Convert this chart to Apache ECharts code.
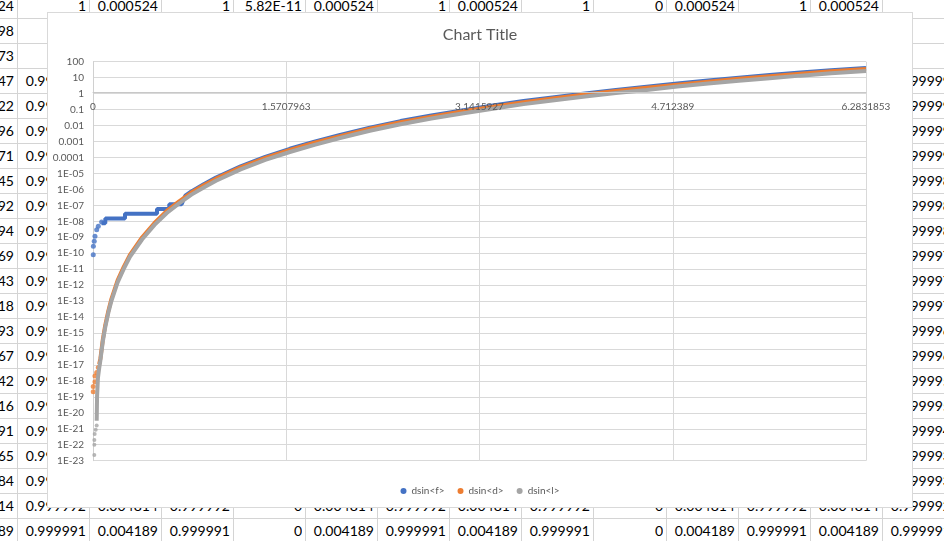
<!DOCTYPE html>
<html>
<head>
<meta charset="utf-8">
<script src="https://cdn.jsdelivr.net/npm/echarts@6/dist/echarts.min.js"></script>
<style>
    body { margin: 0; width: 944px; height: 541px; overflow: hidden; background: #fff; position: relative; font-family: Lato, sans-serif; }
    .cell { position: absolute; height: 25px; line-height: 25px; font-size: 14px; color: #000; text-align: right; white-space: nowrap; overflow: hidden; }
    .hl { position: absolute; left: 0; width: 944px; height: 1px; background: #d4d4d4; }
    .vl { position: absolute; top: 0; width: 1px; height: 541px; background: #d4d4d4; }
    #box { position: absolute; left: 47px; top: 12px; width: 864px; height: 494px; border: 1px solid #d9d9d9; background: #fff; }
</style>
</head>
<body>
<div id="sheet"></div>
<div id="box"></div>
<script>
    // ---- chart data ----
    var seriesNames = ['dsin<f>', 'dsin<d>', 'dsin<l>'];
    var xTickLabels = ['0', '1.5707963', '3.1415927', '4.712389', '6.2831853'];

    // shared x positions of the main curve (radians)
    var curveX = [0.06, 0.08, 0.1, 0.125, 0.15, 0.2, 0.25, 0.3, 0.4, 0.5, 0.6, 0.7, 0.8, 0.9, 1.0, 1.2, 1.4, 1.6, 1.8, 2.0,
        2.25, 2.5, 2.75, 3.0, 3.25, 3.5, 3.75, 4.0, 4.25, 4.5, 4.75, 5.0, 5.25, 5.5, 5.75, 6.0, 6.2832];

    // dsin<d>
    var dsinD = [2.5e-17, 4.0e-16, 3.2e-15, 2.5e-14, 1.4e-13, 2.0e-12, 1.4e-11, 7.9e-11, 1.0e-9, 7.9e-9, 4.5e-8, 1.8e-7,
        6.3e-7, 1.8e-6, 4.7e-6, 2.4e-5, 9.3e-5, 3.0e-4, 8.3e-4, 2.1e-3, 6.3e-3, 1.6e-2, 3.6e-2, 7.6e-2, 0.15, 0.29, 0.51,
        0.87, 1.45, 2.3, 3.6, 5.6, 8.5, 12.3, 17.8, 25, 35];
    var dLowX = [0.05];
    var dLowY = [1.1e-17];
    var dDotX = [0.002, 0.002, 0.016, 0.016, 0.03, 0.043];
    var dDotY = [2.1e-19, 4.5e-19, 9.0e-19, 2.0e-18, 3.3e-18, 6.8e-18];

    // dsin<l>
    var dsinL = [1.9e-17, 3.0e-16, 2.4e-15, 1.9e-14, 1.05e-13, 1.5e-12, 1.05e-11, 6.0e-11, 7.5e-10, 6.0e-9, 3.3e-8, 1.33e-7,
        4.7e-7, 1.33e-6, 3.5e-6, 1.8e-5, 7.0e-5, 2.2e-4, 6.2e-4, 1.6e-3, 4.7e-3, 1.2e-2, 2.75e-2, 5.7e-2, 0.113, 0.22, 0.39,
        0.65, 1.09, 1.7, 2.75, 4.25, 6.4, 9.3, 13.4, 19, 26];
    var lLowX = [0.03, 0.033, 0.04, 0.05];
    var lLowY = [3.2e-21, 1.0e-19, 1.5e-18, 6.0e-18];
    var lDotX = [0.0105, 0.0105, 0.011, 0.011, 0.0135, 0.022, 0.03];
    var lDotY = [8e-24, 2.3e-23, 1.0e-22, 2.0e-22, 4.7e-22, 8.7e-22, 1.6e-21];

    // dsin<f>
    var fX = [0.07, 0.1, 0.1, 0.26, 0.26, 0.52, 0.52, 0.62, 0.62, 0.72, 0.75, 0.8, 0.9, 1.0, 1.2, 1.4, 1.6, 1.8, 2.0, 2.25,
        2.5, 2.75, 3.0, 3.25, 3.5, 3.75, 4.0, 4.25, 4.5, 4.75, 5.0, 5.25, 5.5, 5.75, 6.0, 6.2832];
    var fY = [7.45e-9, 7.45e-9, 1.49e-8, 1.49e-8, 2.98e-8, 2.98e-8, 5.96e-8, 5.96e-8, 1.19e-7, 1.19e-7, 4.0e-7, 7.4e-7,
        2.1e-6, 5.5e-6, 2.8e-5, 1.1e-4, 3.5e-4, 9.8e-4, 2.5e-3, 7.4e-3, 1.9e-2, 4.3e-2, 8.9e-2, 0.18, 0.34, 0.60, 1.02,
        1.7, 2.7, 4.3, 6.6, 10, 14.5, 21, 29.5, 41];
    var fDotX = [0.002, 0.003, 0.01, 0.016, 0.03, 0.043, 0.07];
    var fDotY = [8e-11, 2.75e-10, 5.6e-10, 1.15e-9, 3.0e-9, 4.9e-9, 9e-9];

    var colors = ['#4472C4', '#ED7D31', '#A5A5A5'];

    // ---- worksheet behind the chart ----
    var colEdges = [-55, 17, 89, 161, 233, 305, 377, 449, 521, 593, 666, 738, 810, 882, 954];
    var leftTails = ['24', '98', '73', '47', '22', '96', '71', '45', '92', '94', '69', '43', '18', '93', '67', '42', '16',
        '91', '65', '84', '14', '89'];
    var topRow = ['1', '0.000524', '1', '5.82E-11', '0.000524', '1', '0.000524', '1', '0', '0.000524', '1', '0.000524', ''];
    var colB = ['0.999999', '0.999999', '0.999999', '0.999999', '0.999998', '0.999998', '0.999998', '0.999997', '0.999997',
        '0.999997', '0.999996', '0.999996', '0.999995', '0.999995', '0.999994', '0.999993', '0.999993'];
    var colN = ['0.999999', '0.999999', '0.999999', '0.999999', '0.999998', '0.999998', '0.999998', '0.999997', '0.999997',
        '0.999997', '0.999996', '0.999996', '0.999995', '0.999995', '0.999994', '0.999993', '0.999993'];
    var row20 = ['0.999992', '0.004814', '0.999992', '0', '0.004814', '0.999992', '0.004814', '0.999992', '0', '0.004814',
        '0.999992', '0.004814', '0.999992'];
    var row21 = ['0.999991', '0.004189', '0.999991', '0', '0.004189', '0.999991', '0.004189', '0.999991', '0', '0.004189',
        '0.999991', '0.004189', '0.999991'];

    var sheet = document.getElementById('sheet');
    function addCell(r, c, txt) {
        if (!txt) return;
        var d = document.createElement('div');
        d.className = 'cell';
        d.style.left = (colEdges[c] + 1) + 'px';
        d.style.width = (colEdges[c + 1] - colEdges[c] - 4) + 'px';
        d.style.top = (17.5 + 25 * (r - 1)) + 'px';
        d.textContent = txt;
        sheet.appendChild(d);
    }
    for (var r = 0; r < 23; r++) {
        var h = document.createElement('div');
        h.className = 'hl';
        h.style.top = (17.5 + 25 * r) + 'px';
        sheet.appendChild(h);
    }
    for (var c = 1; c < colEdges.length; c++) {
        var v = document.createElement('div');
        v.className = 'vl';
        v.style.left = colEdges[c] + 'px';
        sheet.appendChild(v);
    }
    leftTails.forEach(function (t, r) { addCell(r, 0, t); });
    topRow.forEach(function (t, i) { addCell(0, i + 1, t); });
    colB.forEach(function (t, i) { addCell(i + 3, 1, t); });
    colN.forEach(function (t, i) { addCell(i + 3, 13, t); });
    row20.forEach(function (t, i) { addCell(20, i + 1, t); });
    row21.forEach(function (t, i) { addCell(21, i + 1, t); });

    // ---- chart ----
    // the y axis is a value axis over log10 of the data (one tick per decade, like Excel's log axis)
    function pairs(xs, ys) {
        return xs.map(function (x, i) { return [x, Math.log10(ys[i])]; });
    }
    function yLabel(e) {
        e = Math.round(e);
        if (e >= 0) return String(Math.pow(10, e));
        if (e >= -4) return '0.' + '0'.repeat(-e - 1) + '1';
        return '1E-' + (-e < 10 ? '0' : '') + (-e);
    }
    function lineSeries(name, color, xs, ys, width) {
        return {
            name: name, type: 'line', data: pairs(xs, ys), showSymbol: false, symbol: 'circle',
            itemStyle: { color: color }, lineStyle: { color: color, width: width }, silent: true
        };
    }
    function dotSeries(name, color, xs, ys, size) {
        return {
            name: name, type: 'scatter', data: pairs(xs, ys), symbolSize: size,
            itemStyle: { color: color }, silent: true
        };
    }

    var textColor = '#595959';
    var chart = echarts.init(document.getElementById('box'));
    var xMax = 2 * Math.PI;
    var option = {
        animation: false,
        textStyle: { fontFamily: 'Lato, sans-serif' },
        title: {
            text: 'Chart Title', left: 'center', top: 9,
            textStyle: { fontSize: 16, fontWeight: 'normal', color: textColor, fontFamily: 'Lato, sans-serif' }
        },
        legend: {
            data: seriesNames.map(function (n) { return { name: n, icon: 'circle' }; }),
            top: 468, left: 'center', itemWidth: 6, itemHeight: 6, itemGap: 13,
            textStyle: { fontSize: 10, color: textColor }
        },
        grid: { left: 45, right: 46, top: 48.7, bottom: 46.3 },
        xAxis: [{
            // vertical gridlines only, under the series
            type: 'value', min: 0, max: xMax, interval: Math.PI / 2,
            axisLine: { show: false }, axisTick: { show: false }, axisLabel: { show: false },
            splitLine: { show: true, lineStyle: { color: '#d9d9d9' } }
        }, {
            // the visible axis crossing at 1, labels drawn over the curve as in Excel
            type: 'value', min: 0, max: xMax, interval: Math.PI / 2, z: 5,
            position: 'bottom', offset: -368,
            axisLine: { show: true, onZero: false, lineStyle: { color: '#c8c8c8' } },
            axisTick: { show: false },
            axisLabel: {
                margin: 9, fontSize: 10, color: textColor,
                formatter: function (v) { return xTickLabels[Math.round(v / (Math.PI / 2))]; }
            },
            splitLine: { show: false }
        }],
        yAxis: {
            type: 'value', min: -23, max: 2, interval: 1,
            axisLine: { show: true, onZero: false, lineStyle: { color: '#d0d0d0' } },
            axisTick: { show: false },
            axisLabel: { margin: 9, fontSize: 10, color: textColor, formatter: yLabel },
            splitLine: { show: true, lineStyle: { color: '#d9d9d9' } }
        },
        series: [
            lineSeries(seriesNames[0], colors[0], fX, fY, 4),
            dotSeries(seriesNames[0], colors[0], fDotX, fDotY, 5),
            lineSeries(seriesNames[1], colors[1], dLowX.concat(curveX), dLowY.concat(dsinD), 4),
            dotSeries(seriesNames[1], colors[1], dDotX, dDotY, 5),
            lineSeries(seriesNames[2], colors[2], lLowX.concat(curveX), lLowY.concat(dsinL), 4),
            dotSeries(seriesNames[2], colors[2], lDotX, lDotY, 4)
        ]
    };
    chart.setOption(option);
</script>
</body>
</html>
